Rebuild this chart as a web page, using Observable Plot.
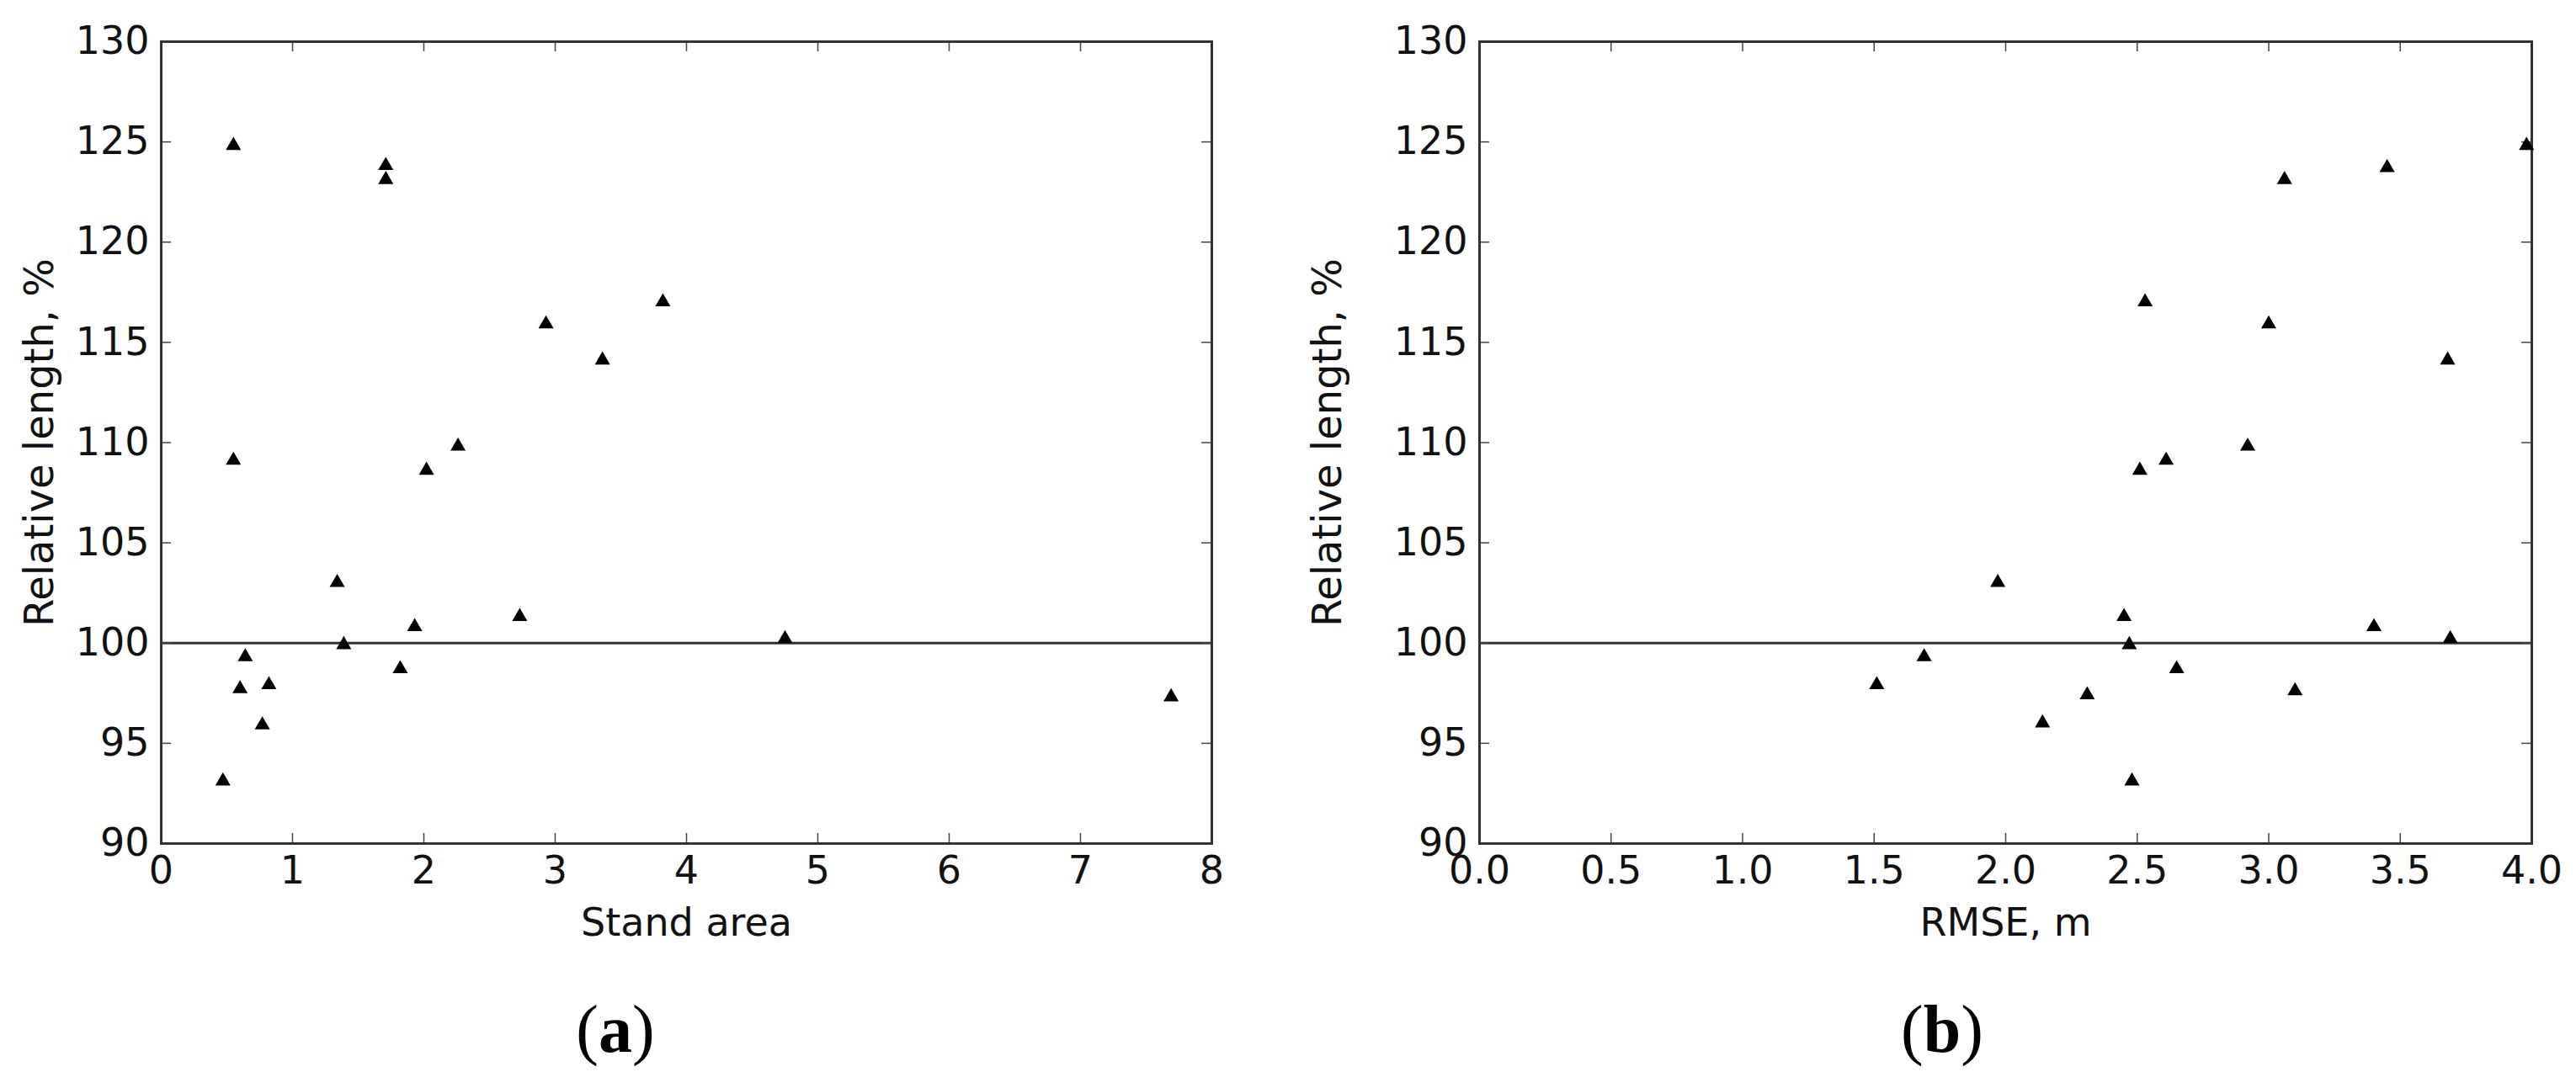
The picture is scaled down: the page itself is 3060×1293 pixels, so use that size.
<!DOCTYPE html>
<html>
<head>
<meta charset="utf-8">
<script src="https://cdn.jsdelivr.net/npm/d3@7"></script>
<script src="https://cdn.jsdelivr.net/npm/@observablehq/plot@0.6"></script>
<style>
  html, body { margin: 0; padding: 0; background: #fff; }
  #wrap { position: relative; width: 3060px; height: 1293px; overflow: hidden; background: #fff; }
  .panel { position: absolute; top: 0; }
  .cap { position: absolute; top: 1183px; font-family: "Liberation Serif", "DejaVu Serif", serif; font-size: 80px; line-height: 1; color: #000; transform: translateX(-50%); white-space: nowrap; }
  .cap b { font-weight: bold; }
</style>
</head>
<body>
<div id="wrap">
  <div id="pa" class="panel" style="left:0px"></div>
  <div id="pb" class="panel" style="left:1530px"></div>
  <div class="cap" style="left:731px">(<b>a</b>)</div>
  <div class="cap" style="left:2307px">(<b>b</b>)</div>
</div>
<script>
// ---- data ----
const standArea = [0.47, 0.55, 0.55, 0.60, 0.64, 0.77, 0.82, 1.34, 1.39, 1.71, 1.71, 1.82, 1.93, 2.02, 2.26, 2.73, 2.93, 3.36, 3.82, 4.75, 7.69];
const relLenA   = [93.2, 124.9, 109.2, 97.8, 99.4, 96.0, 98.0, 103.1, 100.0, 123.9, 123.2, 98.8, 100.9, 108.7, 109.9, 101.4, 116.0, 114.2, 117.1, 100.3, 97.4];

const rmse      = [3.98, 3.45, 3.06, 2.53, 3.00, 3.68, 2.92, 2.61, 2.51, 1.97, 2.45, 3.40, 3.69, 2.47, 1.69, 2.65, 1.51, 3.10, 2.31, 2.14, 2.48];
const relLenB   = [124.9, 123.8, 123.2, 117.1, 116.0, 114.2, 109.9, 109.2, 108.7, 103.1, 101.4, 100.9, 100.3, 100.0, 99.4, 98.8, 98.0, 97.7, 97.5, 96.1, 93.2];

const yTicks   = [90, 95, 100, 105, 110, 115, 120, 125, 130];
const xTicksA  = [0, 1, 2, 3, 4, 5, 6, 7, 8];
const xTicksB  = [0, 0.5, 1.0, 1.5, 2.0, 2.5, 3.0, 3.5, 4.0];
const refLine  = [100];
const yLabel   = "Relative length, %";
const xLabelA  = "Stand area";
const xLabelB  = "RMSE, m";

const FONT = "DejaVu Sans";
const FS = 46;
const TICK = 12;
const W = 1530, H = 1130, MT = 49, MB = 128;

function panel({xs, ys, xTicks, xDomain, xFormat, xLabel, ml, mr}) {
  const innerW = W - ml - mr;
  const innerH = H - MT - MB;
  const pts = xs.map((x, i) => ({x, y: ys[i]}));
  return Plot.plot({
    width: W, height: H,
    marginLeft: ml, marginRight: mr, marginTop: MT, marginBottom: MB,
    style: {fontFamily: FONT, fontSize: FS + "px", color: "#111", background: "#fff", overflow: "visible"},
    x: {domain: xDomain},
    y: {domain: [90, 130]},
    marks: [
      Plot.ruleY(refLine, {y: d => d, stroke: "#333", strokeWidth: 3}),
      // inward ticks on all four sides
      Plot.tickX(xTicks, {x: d => d, insetTop: innerH - TICK, stroke: "#444", strokeWidth: 1.5}),
      Plot.tickX(xTicks, {x: d => d, insetBottom: innerH - TICK, stroke: "#444", strokeWidth: 1.5}),
      Plot.tickY(yTicks, {y: d => d, insetRight: innerW - TICK, stroke: "#444", strokeWidth: 1.5}),
      Plot.tickY(yTicks, {y: d => d, insetLeft: innerW - TICK, stroke: "#444", strokeWidth: 1.5}),
      Plot.frame({stroke: "#333", strokeWidth: 3}),
      Plot.axisX(xTicks, {tickSize: 0, tickPadding: 15, tickFormat: xFormat, label: null, fontSize: FS}),
      Plot.axisY(yTicks, {tickSize: 0, tickPadding: 14, label: null, fontSize: FS}),
      Plot.dot(pts, {x: "x", y: "y", symbol: "triangle", r: 6.7, fill: "#000", stroke: "none", dy: 2}),
      Plot.text([yLabel], {text: d => d, frameAnchor: "left", rotate: -90, dx: -(ml - 28 - (ml === 191 ? 0 : 0)) , lineAnchor: "top", textAnchor: "middle", fontSize: 48, fill: "#111"}),
      Plot.text([xLabel], {text: d => d, frameAnchor: "bottom", dy: 77, lineAnchor: "top", textAnchor: "middle", fontSize: FS, fill: "#111"})
    ]
  });
}

document.getElementById("pa").append(panel({
  xs: standArea, ys: relLenA, xTicks: xTicksA, xDomain: [0, 8], xFormat: d3.format("d"), xLabel: xLabelA, ml: 191, mr: 91
}));
document.getElementById("pb").append(panel({
  xs: rmse, ys: relLenB, xTicks: xTicksB, xDomain: [0, 4], xFormat: d3.format(".1f"), xLabel: xLabelB, ml: 227, mr: 53
}));
</script>
</body>
</html>
